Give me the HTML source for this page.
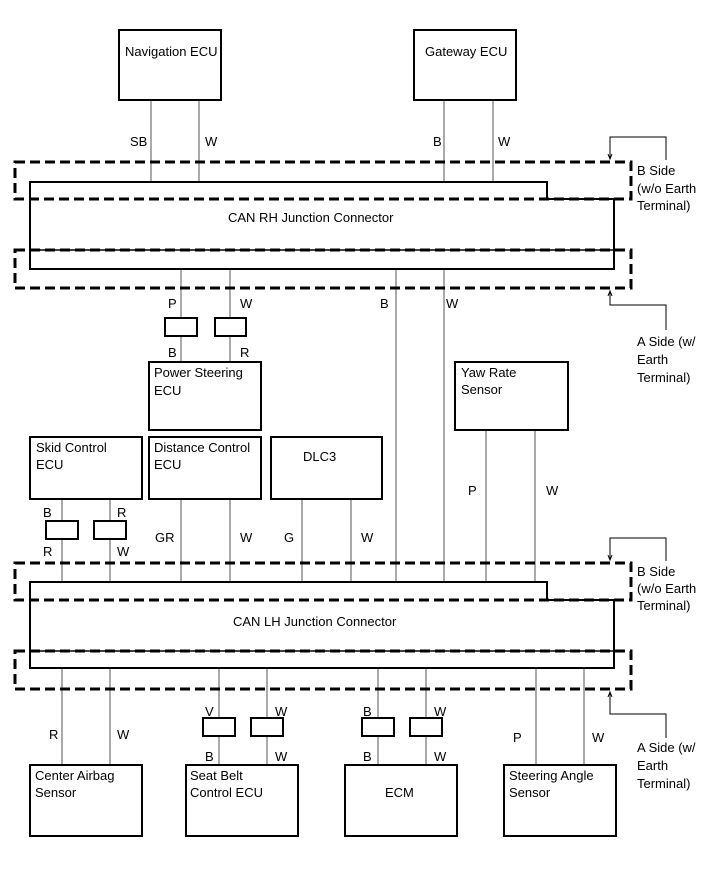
<!DOCTYPE html>
<html><head><meta charset="utf-8"><style>body{margin:0;background:#fff}svg{display:block}text{font-family:"Liberation Sans",sans-serif;font-size:13px;fill:#000}</style></head><body>
<svg width="713" height="882" viewBox="0 0 713 882">
<g stroke="#555" stroke-width="1" fill="none">
<path d="M151,100V182M199,100V182M444,100V182M493,100V182"/>
<path d="M181,269V318M230,269V318M181,336V362M230,336V362"/>
<path d="M396,269V582M444,269V582M486,430V582M535,430V582"/>
<path d="M62,499V521M110,499V521M62,539V582M110,539V582"/>
<path d="M181,499V582M230,499V582M302,499V582M351,499V582"/>
<path d="M62,668V765M110,668V765"/>
<path d="M219,668V718M267,668V718M219,736V765M267,736V765"/>
<path d="M378,668V718M426,668V718M378,736V765M426,736V765"/>
<path d="M536,668V765M584,668V765"/>
</g>
<g stroke="#000" stroke-width="2" fill="none">
<rect x="119" y="30" width="102" height="70"/>
<rect x="414" y="30" width="102" height="70"/>
<path d="M30,182H547V199H614V269H30Z"/>
<line x1="30" y1="250" x2="614" y2="250" stroke-width="1.5"/>
<rect x="165" y="318" width="32" height="18"/>
<rect x="215" y="318" width="31" height="18"/>
<rect x="149" y="362" width="112" height="68"/>
<rect x="455" y="362" width="113" height="68"/>
<rect x="30" y="437" width="112" height="62"/>
<rect x="149" y="437" width="112" height="62"/>
<rect x="271" y="437" width="111" height="62"/>
<rect x="46" y="521" width="32" height="18"/>
<rect x="94" y="521" width="32" height="18"/>
<path d="M30,582H547V600H614V668H30Z"/>
<line x1="30" y1="651" x2="614" y2="651" stroke-width="1.5"/>
<rect x="203" y="718" width="32" height="18"/>
<rect x="251" y="718" width="32" height="18"/>
<rect x="362" y="718" width="32" height="18"/>
<rect x="410" y="718" width="32" height="18"/>
<rect x="30" y="765" width="112" height="71"/>
<rect x="186" y="765" width="112" height="71"/>
<rect x="345" y="765" width="112" height="71"/>
<rect x="504" y="765" width="112" height="71"/>
</g>
<g stroke="#000" stroke-width="3" fill="none" stroke-dasharray="10,5">
<rect x="15" y="162" width="616" height="37"/>
<rect x="15" y="250" width="616" height="38"/>
<rect x="15" y="563" width="616" height="37"/>
<rect x="15" y="651" width="616" height="38"/>
</g>
<g stroke="#000" stroke-width="1" fill="none">
<path d="M666,160V137H610V159"/><path d="M608,154L610,159L612,154"/>
<path d="M666,330V305H610V291"/><path d="M608,296L610,291L612,296"/>
<path d="M666,561V538H610V560"/><path d="M608,555L610,560L612,555"/>
<path d="M666,738V714H610V692"/><path d="M608,697L610,692L612,697"/>
</g>
<text x="125" y="56">Navigation ECU</text>
<text x="425" y="56">Gateway ECU</text>
<text x="130" y="146">SB</text><text x="205" y="146">W</text>
<text x="433" y="146">B</text><text x="498" y="146">W</text>
<text x="228" y="222">CAN RH Junction Connector</text>
<text x="637" y="175">B Side</text><text x="637" y="193">(w/o Earth</text><text x="637" y="210">Terminal)</text>
<text x="168" y="308">P</text><text x="240" y="308">W</text>
<text x="380" y="308">B</text><text x="446" y="308">W</text>
<text x="168" y="357">B</text><text x="240" y="357">R</text>
<text x="637" y="346">A Side (w/</text><text x="637" y="364">Earth</text><text x="637" y="382">Terminal)</text>
<text x="154" y="377">Power Steering</text><text x="154" y="395">ECU</text>
<text x="461" y="377">Yaw Rate</text><text x="461" y="394">Sensor</text>
<text x="36" y="452">Skid Control</text><text x="36" y="469">ECU</text>
<text x="154" y="452">Distance Control</text><text x="154" y="469">ECU</text>
<text x="303" y="461">DLC3</text>
<text x="468" y="495">P</text><text x="546" y="495">W</text>
<text x="43" y="517">B</text><text x="117" y="517">R</text>
<text x="43" y="556">R</text><text x="117" y="556">W</text>
<text x="155" y="542">GR</text><text x="240" y="542">W</text>
<text x="284" y="542">G</text><text x="361" y="542">W</text>
<text x="637" y="576">B Side</text><text x="637" y="593">(w/o Earth</text><text x="637" y="610">Terminal)</text>
<text x="233" y="626">CAN LH Junction Connector</text>
<text x="205" y="716">V</text><text x="275" y="716">W</text>
<text x="363" y="716">B</text><text x="434" y="716">W</text>
<text x="49" y="739">R</text><text x="117" y="739">W</text>
<text x="513" y="742">P</text><text x="592" y="742">W</text>
<text x="205" y="761">B</text><text x="275" y="761">W</text>
<text x="363" y="761">B</text><text x="434" y="761">W</text>
<text x="637" y="752">A Side (w/</text><text x="637" y="770">Earth</text><text x="637" y="788">Terminal)</text>
<text x="35" y="780">Center Airbag</text><text x="35" y="797">Sensor</text>
<text x="190" y="780">Seat Belt</text><text x="190" y="797">Control ECU</text>
<text x="385" y="797">ECM</text>
<text x="509" y="780">Steering Angle</text><text x="509" y="797">Sensor</text>
</svg>
</body></html>
